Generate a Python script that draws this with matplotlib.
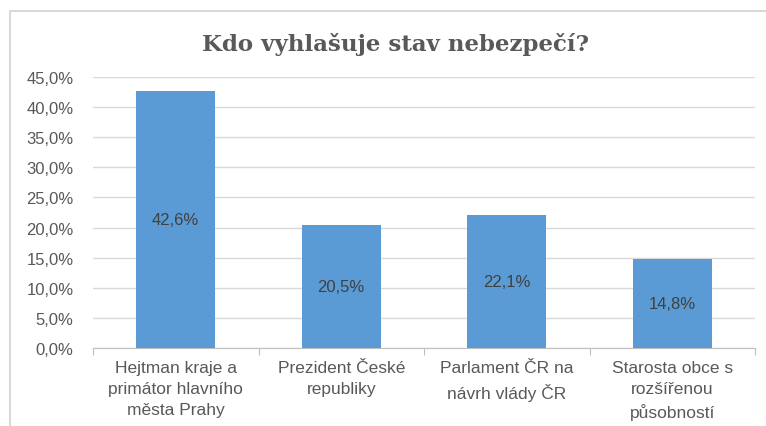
import matplotlib.pyplot as plt
from matplotlib.patches import Rectangle

categories = ["Hejtman kraje a\nprimátor hlavního\nměsta Prahy",
              "Prezident České\nrepubliky",
              "Parlament ČR na\nnávrh vlády ČR",
              "Starosta obce s\nrozšířenou\npůsobností"]
values = [42.6, 20.5, 22.1, 14.8]
yticks = [0, 5, 10, 15, 20, 25, 30, 35, 40, 45]

fig = plt.figure(figsize=(7.66, 4.27), dpi=100)
fig.patches.append(Rectangle((10 / 766, -0.1), 1.2, 1 - 12 / 427 + 0.1, transform=fig.transFigure,
                             fill=False, edgecolor="#d9d9d9", linewidth=1.5))
ax = fig.add_axes([93 / 766, 1 - 349 / 427, 662 / 766, 271 / 427])

x = range(len(categories))
ax.bar(x, values, width=0.48, color="#5b9bd5", zorder=3)
for i, v in enumerate(values):
    ax.text(i, v / 2, f"{v:.1f}%".replace(".", ","), ha="center", va="center",
            fontsize=12, color="#404040", family="Liberation Sans", zorder=4)

ax.set_ylim(0, 45)
ax.set_xlim(-0.5, len(categories) - 0.5)
ax.set_yticks(yticks)
ax.set_yticklabels([f"{t:.1f}%".replace(".", ",") for t in yticks],
                   fontsize=12, color="#595959", family="Liberation Sans")
ax.yaxis.grid(True, color="#d9d9d9", linewidth=1, zorder=0)
ax.tick_params(axis="y", length=0, pad=14)

ax.set_xticks([i - 0.5 for i in range(len(categories) + 1)], minor=False)
ax.set_xticklabels([])
ax.set_xticks(list(x), minor=True)
ax.set_xticklabels(categories, minor=True, fontsize=12.5, color="#595959",
                   family="Liberation Sans", linespacing=1.5)
ax.tick_params(axis="x", which="major", length=5, color="#bfbfbf")
ax.tick_params(axis="x", which="minor", length=0, pad=9)

for s in ["top", "right", "left"]:
    ax.spines[s].set_visible(False)
ax.spines["bottom"].set_color("#bfbfbf")

fig.text(0.5 + 12 / 766, 1 - 45 / 427, "Kdo vyhlašuje stav nebezpečí?", ha="center", va="center",
         fontsize=16.5, fontweight="bold", color="#595959", family="DejaVu Serif")

fig.savefig("out.png", dpi=100)
